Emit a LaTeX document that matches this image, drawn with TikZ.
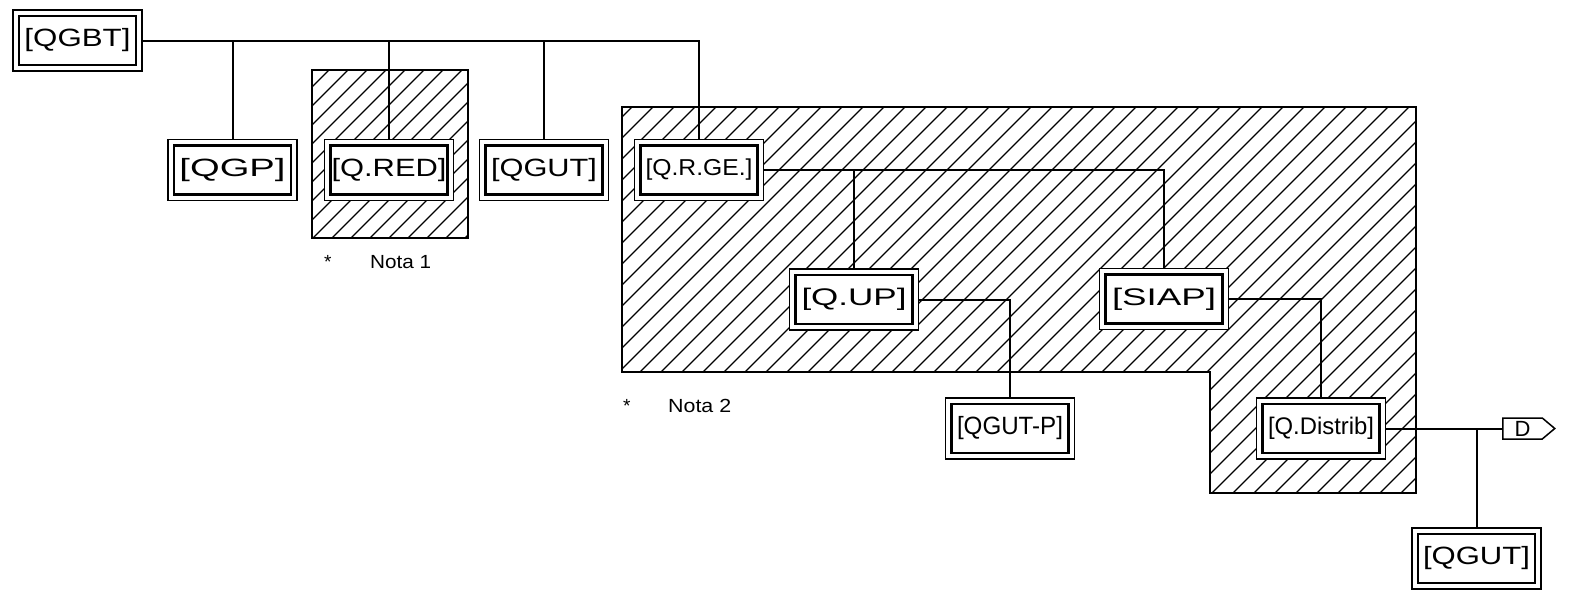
\documentclass[tikz,border=0pt]{standalone}
\usepackage{fontspec}
\setmainfont{Liberation Sans}
\usepackage{graphicx}
\usetikzlibrary{shapes.symbols}
\newcommand{\boxtxt}[2]{\resizebox{#1pt}{\height}{#2}}
\begin{document}
\begin{tikzpicture}[x=1pt,y=-1pt,
  qbox/.style={draw, line width=1.5pt, fill=white, minimum width=129pt, minimum height=61pt,
    inner sep=0pt, font=\fontsize{25}{28}\selectfont,
    path picture={\draw[line width=2.1pt]
      ([xshift=6pt,yshift=-6pt]path picture bounding box.north west) rectangle
      ([xshift=-6pt,yshift=6pt]path picture bounding box.south east);}},
  fsmall/.style={font=\fontsize{#1}{#1}\selectfont},
  wire/.style={line width=2pt},
  hatch/.style={line width=1.3pt},
  region/.style={line width=2pt},
  note/.style={font=\fontsize{19}{22}\selectfont, inner sep=0pt, anchor=base west}]
\useasboundingbox (0,0) rectangle (1573,597);

% hatched regions
\begin{scope}
  \clip (312,70) rectangle (468,238);
  \foreach \c in {380,399,...,720} \draw[hatch] ({\c-238},238) -- ({\c-70},70);
\end{scope}
\begin{scope}
  \clip (622,107) -- (1416,107) -- (1416,493) -- (1210,493) -- (1210,372) -- (622,372) -- cycle;
  \foreach \c in {718,739,...,1920} \draw[hatch] ({\c-493},493) -- ({\c-107},107);
\end{scope}
\draw[region] (312,70) rectangle (468,238);
\draw[region] (622,107) -- (1416,107) -- (1416,493) -- (1210,493) -- (1210,372) -- (622,372) -- cycle;

% boxes
\node[qbox] (QGBT) at (77.5,40.5) {\boxtxt{106}{[QGBT]}};
\node[qbox] (QGP) at (232.5,170) {\boxtxt{106}{[QGP]}};
\node[qbox] (QRED) at (389,170) {\boxtxt{115}{[Q.RED]}};
\node[qbox] (QGUTa) at (544,170) {\boxtxt{106}{[QGUT]}};
\node[qbox, fsmall=23] (QRGE) at (699,170) {\boxtxt{107}{[Q.R.GE.]}};
\node[qbox, fsmall=24] (QUP) at (854,299.5) {\boxtxt{105}{[Q.UP]}};
\node[qbox, fsmall=24] (SIAP) at (1164,299) {\boxtxt{104}{[SIAP]}};
\node[qbox] (QGUTP) at (1010,428.5) {\boxtxt{106}{[QGUT-P]}};
\node[qbox, fsmall=24] (QDist) at (1321,428.5) {\boxtxt{106}{[Q.Distrib]}};
\node[qbox, fsmall=25] (QGUTb) at (1476.5,558.5) {\boxtxt{107}{[QGUT]}};

% off-page flag
\node[draw, line width=1.5pt, signal, signal to=east, signal pointer angle=80, minimum width=52pt,
  minimum height=21pt, inner sep=0pt, fsmall=22, anchor=west] (D) at (1502,428.5) {D};

% connectors
\draw[wire] (QGBT.east) -| (QRGE.north);
\draw[wire] (QGP.north) -- (QGP.north |- QGBT.east);
\draw[wire] (QRED.north) -- (QRED.north |- QGBT.east);
\draw[wire] (QGUTa.north) -- (QGUTa.north |- QGBT.east);
\draw[wire] (QRGE.east) -| (SIAP.north);
\draw[wire] (QUP.north) -- (QUP.north |- QRGE.east);
\draw[wire] (QUP.east) -| (QGUTP.north);
\draw[wire] (SIAP.east) -| (QDist.north);
\draw[wire] (QDist.east) -- (D.west);
\draw[wire] (QGUTb.north) -- (QGUTb.north |- QDist.east);

% notes
\node[note] (n1s) at (324,268) {*};
\node[note] (n1) at (370,268) {\boxtxt{61}{Nota 1}};
\node[note] (n2s) at (623,412) {*};
\node[note] (n2) at (668,412) {\boxtxt{63}{Nota 2}};
\end{tikzpicture}
\end{document}
